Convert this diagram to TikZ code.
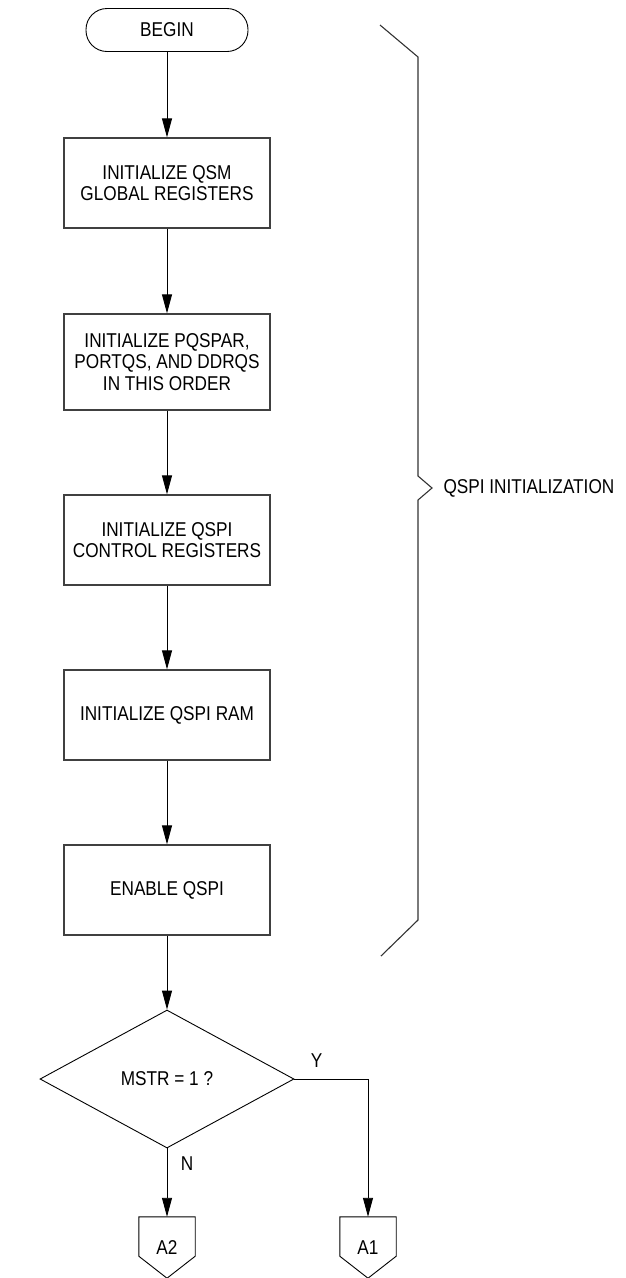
\documentclass[tikz,border=0pt]{standalone}
\usepackage{fontspec}
\setmainfont{Liberation Sans}[FakeStretch=0.86]
\usetikzlibrary{arrows.meta,shapes.geometric}
\tikzset{
  flow/.style={-{Triangle[length=19pt,width=10pt]},line width=0.9pt},
  proc/.style={draw=black!75,line width=1.3pt,minimum width=206pt,minimum height=90pt,align=center,inner sep=0pt},
  term/.style={draw,line width=0.9pt,rounded corners=21pt,minimum width=162pt,minimum height=43pt},
  decide/.style={diamond,draw,line width=0.9pt,minimum width=254pt,minimum height=138pt,aspect=1.84,inner sep=0pt},
  offpage/.style={minimum width=56pt,minimum height=61pt,inner sep=0pt},
}
\begin{document}
\begin{tikzpicture}[x=1pt,y=-1pt,font=\fontsize{20}{21.5}\selectfont]
\useasboundingbox (0,0) rectangle (625,1278);
% Flow
    \node[term] (begin) at (167,30) {BEGIN};
    \node[proc] (globals) at (167,183) {INITIALIZE QSM\\GLOBAL REGISTERS};
    \node[proc,minimum height=96pt] (ports) at (167,362) {INITIALIZE PQSPAR,\\PORTQS, AND DDRQS\\IN THIS ORDER};
    \node[proc] (ctrl) at (167,540) {INITIALIZE QSPI\\CONTROL REGISTERS};
    \node[proc] (ram) at (167,715) {INITIALIZE QSPI RAM};
    \node[proc] (enable) at (167,890) {ENABLE QSPI};
    \node[decide] (mstr) at (167,1079) {MSTR = 1 ?};
    \node[offpage] (a2) at (167,1247.5) {A2};
    \node[offpage] (a1) at (368,1247.5) {A1};
% Off-page outlines
    \foreach \c in {a1,a2}
      \draw[line width=0.9pt] (\c.north west) -- (\c.north east) -- ([yshift=22pt]\c.south east) -- (\c.south) -- ([yshift=22pt]\c.south west) -- cycle;
% Arrows
    \draw[flow] (begin) -- (globals);
    \draw[flow] (globals) -- (ports);
    \draw[flow] (ports) -- (ctrl);
    \draw[flow] (ctrl) -- (ram);
    \draw[flow] (ram) -- (enable);
    \draw[flow] (enable) -- (mstr);
    \draw[flow] (mstr.south) -- node[pos=0.22,right=10pt] (no) {N} (a2);
    \draw[flow] (mstr.east) -| node[pos=0.15,above=8pt] (yes) {Y} (a1);
% Brace
    \draw[line width=1.1pt,black!80] (380,25) -- (418,57) -- (418,476) -- (432,488) -- (418,500) -- (418,920) -- (381,956);
    \node[anchor=west] (qspi) at (440,488) {QSPI INITIALIZATION};
\end{tikzpicture}
\end{document}
